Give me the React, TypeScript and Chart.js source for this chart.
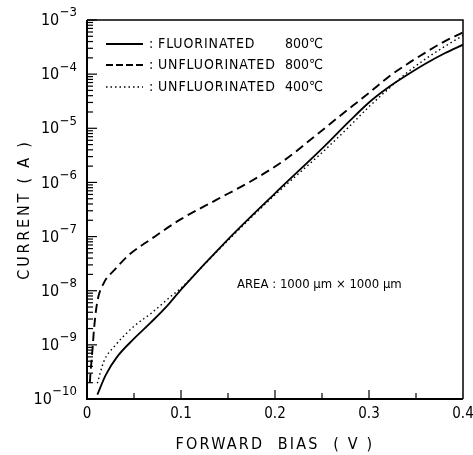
import React, { useEffect, useRef } from 'react';
import { Chart, registerables } from 'chart.js';

Chart.register(...registerables);

// Forward bias (V) and current (A)
const fluor800Bias = [0.011, 0.02, 0.032, 0.05, 0.068, 0.085, 0.1, 0.15, 0.2, 0.25, 0.28, 0.3, 0.32, 0.34, 0.36, 0.38, 0.4];
const fluor800Current = [1.2e-10, 2.8e-10, 6.0e-10, 1.3e-9, 2.6e-9, 5.2e-9, 1.05e-8, 8.9e-8, 6.3e-7, 4.2e-6, 1.4e-5, 3.0e-5, 5.6e-5, 9.5e-5, 1.55e-4, 2.4e-4, 3.5e-4];

const unfluor800Bias = [0.003, 0.004, 0.006, 0.0075, 0.011, 0.018, 0.029, 0.046, 0.067, 0.1, 0.138, 0.173, 0.209, 0.24, 0.27, 0.3, 0.32, 0.34, 0.36, 0.38, 0.4];
const unfluor800Current = [2.0e-10, 3.5e-10, 8.9e-10, 2.0e-9, 6.3e-9, 1.4e-8, 2.4e-8, 4.8e-8, 8.7e-8, 2.1e-7, 4.8e-7, 1.02e-6, 2.5e-6, 6.6e-6, 1.74e-5, 4.5e-5, 8.7e-5, 1.51e-4, 2.5e-4, 4.0e-4, 5.9e-4];

const unfluor400Bias = [0.011, 0.018, 0.029, 0.05, 0.068, 0.089, 0.1, 0.12, 0.15, 0.2, 0.25, 0.28, 0.3, 0.32, 0.34, 0.36, 0.38, 0.4];
const unfluor400Current = [1.95e-10, 5.0e-10, 9.3e-10, 2.2e-9, 3.8e-9, 7.8e-9, 1.12e-8, 2.5e-8, 8.5e-8, 5.9e-7, 3.55e-6, 1.12e-5, 2.5e-5, 5.2e-5, 1.05e-4, 1.9e-4, 3.2e-4, 5.2e-4];

const seriesNames = ['FLUORINATED', 'UNFLUORINATED', 'UNFLUORINATED'];
const seriesTemps = ['800\u2103', '800\u2103', '400\u2103'];
const yDecades = [1e-10, 1e-9, 1e-8, 1e-7, 1e-6, 1e-5, 1e-4, 1e-3];
const yExponents = ['-10', '-9', '-8', '-7', '-6', '-5', '-4', '-3'];
const xTickLabels = ['0', '0.1', '0.2', '0.3', '0.4'];
const xTitle = 'FORWARD  BIAS  ( V )';
const yTitle = 'CURRENT ( A )';
const areaNote = 'AREA : 1000 \u00b5m \u00d7 1000 \u00b5m';

const FONT = "'DejaVu Sans Condensed', 'DejaVu Sans', sans-serif";

const toPoints = (xs: number[], ys: number[]) => xs.map((x, i) => ({ x, y: ys[i] }));

const decorPlugin = {
  id: 'decor',
  afterDraw(chart: any) {
    const ctx = chart.ctx as CanvasRenderingContext2D;
    const { left, right, top, bottom } = chart.chartArea;
    const xs = chart.scales.x;
    const ys = chart.scales.y;
    ctx.save();
    ctx.strokeStyle = '#000';
    ctx.fillStyle = '#000';
    // frame
    ctx.lineWidth = 1.5;
    ctx.beginPath();
    ctx.moveTo(left, top);
    ctx.lineTo(right, top);
    ctx.lineTo(right, bottom);
    ctx.stroke();
    ctx.lineWidth = 2;
    ctx.beginPath();
    ctx.moveTo(left, top);
    ctx.lineTo(left, bottom);
    ctx.lineTo(right, bottom);
    ctx.stroke();
    // y ticks (inward)
    ctx.lineWidth = 1.2;
    yDecades.forEach((d, i) => {
      const py = ys.getPixelForValue(d);
      ctx.beginPath();
      ctx.moveTo(left, py);
      ctx.lineTo(left + 10, py);
      ctx.stroke();
      if (i < yDecades.length - 1) {
        for (let m = 2; m <= 9; m++) {
          const pm = ys.getPixelForValue(d * m);
          ctx.beginPath();
          ctx.moveTo(left, pm);
          ctx.lineTo(left + 6, pm);
          ctx.stroke();
        }
      }
    });
    // x ticks (inward)
    xs.ticks.forEach((t: any) => {
      const px = xs.getPixelForValue(t.value);
      const major = Math.abs(t.value * 10 - Math.round(t.value * 10)) < 1e-6;
      if (t.value <= 0 || t.value >= 0.4) return;
      ctx.beginPath();
      ctx.moveTo(px, bottom);
      ctx.lineTo(px, bottom - (major ? 9 : 6));
      ctx.stroke();
    });
    // y labels with exponents
    yDecades.forEach((d, i) => {
      const py = ys.getPixelForValue(d);
      ctx.font = `13px ${FONT}`;
      ctx.textBaseline = 'middle';
      const exp = yExponents[i].replace('-', '\u2212');
      const ew = ctx.measureText(exp).width;
      const ex = left - 10 - ew;
      ctx.textAlign = 'left';
      ctx.fillText(exp, ex, py - 7);
      ctx.font = `16px ${FONT}`;
      ctx.textAlign = 'right';
      ctx.fillText('10', ex - 0.5, py + 1);
    });
    // legend
    const legendY = [44, 65, 87];
    const dashes = [[], [7, 3], [1.5, 3]];
    const widths = [1.8, 1.8, 1.4];
    legendY.forEach((ly, i) => {
      ctx.save();
      ctx.lineWidth = widths[i];
      ctx.setLineDash(dashes[i]);
      ctx.beginPath();
      ctx.moveTo(106, ly);
      ctx.lineTo(143, ly);
      ctx.stroke();
      ctx.restore();
      ctx.save();
      ctx.font = `14px ${FONT}`;
      ctx.textAlign = 'left';
      ctx.textBaseline = 'middle';
      ctx.fillText(':', 149, ly);
      (ctx as any).letterSpacing = '0.9px';
      ctx.fillText(seriesNames[i], 158, ly);
      (ctx as any).letterSpacing = '0px';
      ctx.fillText(seriesTemps[i], 285, ly);
      ctx.restore();
    });
    // area note
    ctx.font = `13px ${FONT}`;
    ctx.textAlign = 'left';
    ctx.textBaseline = 'middle';
    ctx.fillText(areaNote, 237, 285);
    // axis titles
    ctx.font = `16px ${FONT}`;
    (ctx as any).letterSpacing = '2.2px';
    ctx.textAlign = 'center';
    ctx.fillText(xTitle, (left + right) / 2, 445);
    (ctx as any).letterSpacing = '2.8px';
    ctx.translate(25, (top + bottom) / 2);
    ctx.rotate(-Math.PI / 2);
    ctx.fillText(yTitle, 0, 0);
    ctx.restore();
  },
};

export default function App() {
  const ref = useRef<HTMLCanvasElement>(null);
  useEffect(() => {
    if (!ref.current) return;
    const chart = new Chart(ref.current, {
      type: 'line',
      data: {
        datasets: [
          {
            label: 'FLUORINATED 800\u2103',
            data: toPoints(fluor800Bias, fluor800Current),
            borderColor: '#000',
            borderWidth: 1.8,
            pointRadius: 0,
            fill: false,
            cubicInterpolationMode: 'monotone',
          },
          {
            label: 'UNFLUORINATED 800\u2103',
            data: toPoints(unfluor800Bias, unfluor800Current),
            borderColor: '#000',
            borderWidth: 1.9,
            borderDash: [9, 5],
            pointRadius: 0,
            fill: false,
            cubicInterpolationMode: 'monotone',
          },
          {
            label: 'UNFLUORINATED 400\u2103',
            data: toPoints(unfluor400Bias, unfluor400Current),
            borderColor: '#000',
            borderWidth: 1.4,
            borderDash: [1.5, 3],
            pointRadius: 0,
            fill: false,
            cubicInterpolationMode: 'monotone',
          },
        ],
      },
      options: {
        animation: false,
        responsive: false,
        parsing: false as any,
        layout: { padding: { top: 20, right: 10, left: 0, bottom: 0 } },
        plugins: { legend: { display: false }, tooltip: { enabled: false } },
        scales: {
          x: {
            type: 'linear',
            min: 0,
            max: 0.4,
            grid: { display: false, drawTicks: false },
            border: { display: false },
            ticks: {
              stepSize: 0.05,
              autoSkip: false,
              maxRotation: 0,
              padding: 6,
              color: '#000',
              font: { family: FONT, size: 15 },
              callback: (v: any) => {
                const k = Math.round(v * 10);
                return Math.abs(v * 10 - k) < 1e-6 ? xTickLabels[k] : '';
              },
            },
            afterFit: (s: any) => {
              s.height = 56;
              s.paddingLeft = 0;
              s.paddingRight = 0;
            },
          },
          y: {
            type: 'logarithmic',
            min: 1e-10,
            max: 1e-3,
            grid: { display: false, drawTicks: false },
            border: { display: false },
            ticks: { display: false },
            afterBuildTicks: (s: any) => {
              s.ticks = yDecades.map((v) => ({ value: v }));
            },
            afterFit: (s: any) => {
              s.width = 87;
              s.paddingTop = 0;
              s.paddingBottom = 0;
            },
          },
        },
      },
      plugins: [decorPlugin],
    });
    return () => chart.destroy();
  }, []);
  return (
    <div style={{ position: 'fixed', left: 0, top: 0, width: 473, height: 455, background: '#fff' }}>
      <canvas ref={ref} width={473} height={455} style={{ display: 'block' }} />
    </div>
  );
}
